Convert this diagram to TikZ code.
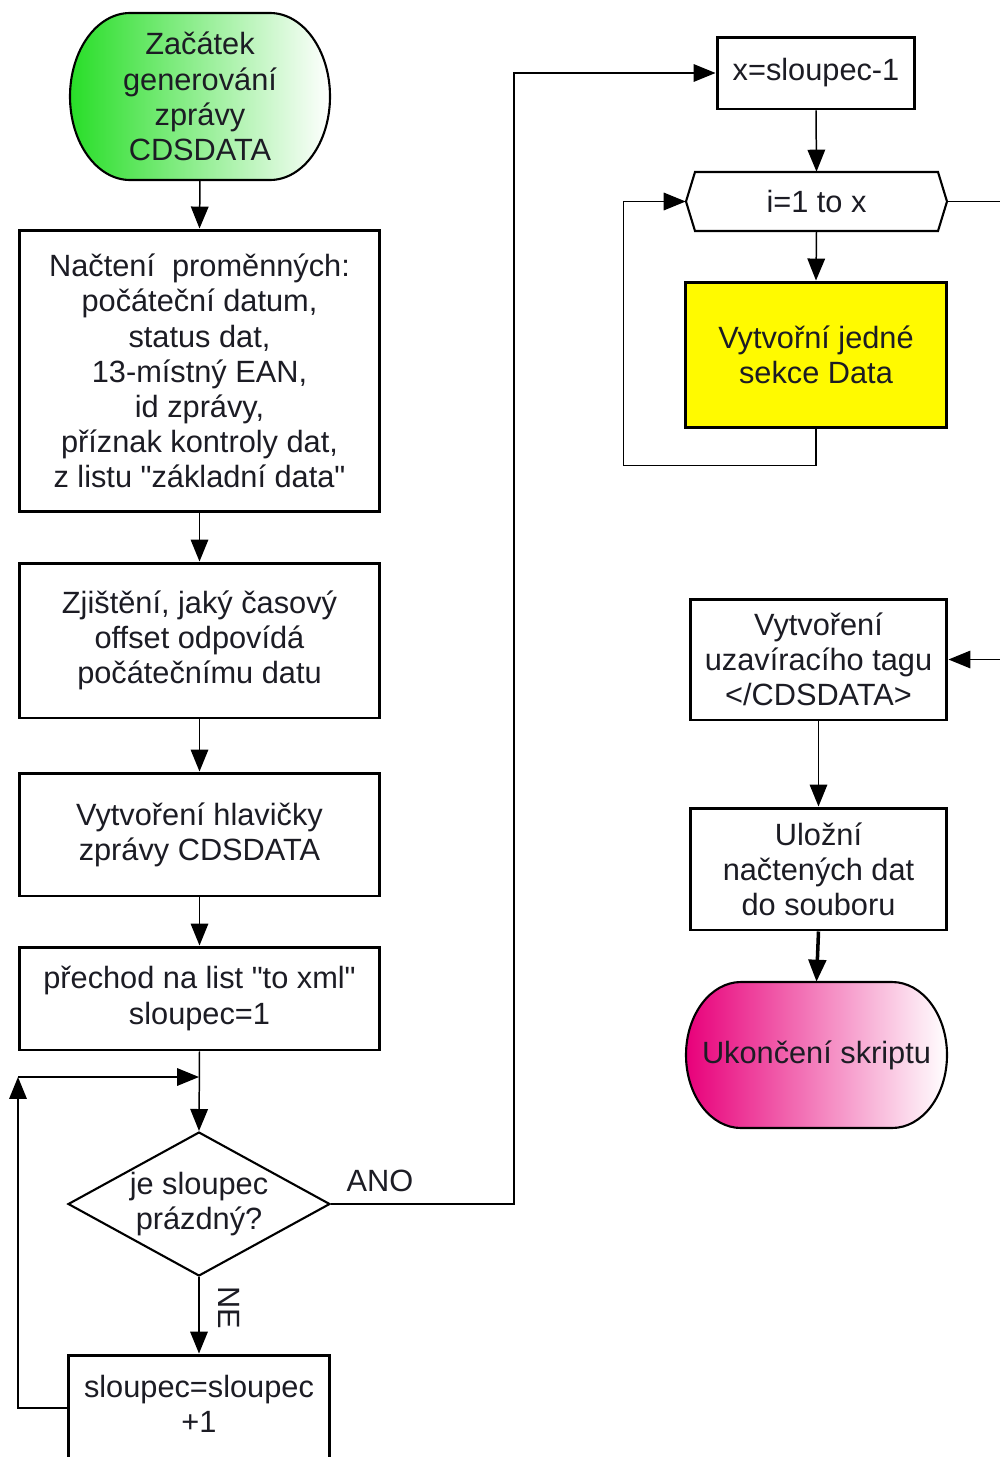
\documentclass[tikz,border=0pt]{standalone}
\usepackage{fontspec}
\setmainfont{Liberation Sans}[Ligatures=TeXOff]
\usetikzlibrary{arrows.meta,shapes.geometric,calc}
\definecolor{tc}{RGB}{28,28,36}
\definecolor{sgreen}{RGB}{40,222,40}
\definecolor{epink}{RGB}{232,0,122}
\definecolor{dyellow}{RGB}{255,250,0}
\begin{document}
\begin{tikzpicture}[x=0.02cm,y=-0.02cm,
  every node/.style={font=\fontsize{17.5}{20}\selectfont, text=tc, align=center},
  box/.style={draw=black, line width=1.7pt, fill=white, inner sep=0pt},
  plain/.style={inner sep=0pt},
  conn/.style={line width=0.85pt, draw=black},
  arr/.style={conn, -{Triangle[length=12.5pt,width=10pt]}},
  thickarr/.style={line width=2pt, draw=black, -{Triangle[length=12.5pt,width=10pt]}},
  shapeline/.style={draw=black, line width=1.2pt}
]
\useasboundingbox (0,0) rectangle (1000,1457);

% ---- start terminal
\path[shapeline, left color=sgreen, middle color=sgreen!55, right color=white]
  (130,13) -- (270,13) .. controls (303.1,13) and (330,50.4) .. (330,96.5)
  .. controls (330,142.6) and (303.1,180) .. (270,180) -- (130,180)
  .. controls (96.9,180) and (70,142.6) .. (70,96.5)
  .. controls (70,50.4) and (96.9,13) .. cycle;
\node[plain, minimum width=5.2cm, minimum height=3.34cm] (start) at (200,96.5)
  {Začátek\\ generování\\ zprávy\\ CDSDATA};

% ---- left column
\node[box, minimum width=7.22cm, minimum height=5.64cm] (nac) at (199.5,371)
  {Načtení\ \ proměnných:\\ počáteční datum,\\ status dat,\\ 13-místný EAN,\\ id zprávy,\\ příznak kontroly dat,\\ z listu "základní data"};
\node[box, minimum width=7.22cm, minimum height=3.1cm] (zji) at (199.5,640.5)
  {Zjištění, jaký časový\\ offset odpovídá\\ počátečnímu datu};
\node[box, minimum width=7.22cm, minimum height=2.46cm] (hla) at (199.5,834.5)
  {Vytvoření hlavičky\\ zprávy CDSDATA};
\node[box, minimum width=7.22cm, minimum height=2.06cm] (pre) at (199.5,998.5)
  {přechod na list "to xml"\\ sloupec=1};
\node[draw=black, line width=1.2pt, fill=white, diamond, aspect=1.82, inner sep=0pt,
      minimum width=5.24cm, minimum height=2.88cm] (dec) at (199,1204)
  {je sloupec\\ prázdný?};
\node[box, minimum width=5.24cm, minimum height=2.86cm] (slo) at (199,1426.5)
  {sloupec=sloupec\\ +1\\ \strut};

\node[plain] (ano) at (380,1181) {ANO};
\node[plain, rotate=-90] (ne) at (229,1308) {NE};

% ---- right column
\node[box, minimum width=3.96cm, minimum height=1.44cm] (xb) at (816,73)
  {x=sloupec-1};
\path[shapeline, fill=white]
  (686,201.5) -- (695,172) -- (938,172) -- (947,201.5) -- (938,231) -- (695,231) -- cycle;
\node[plain, minimum width=5.22cm, minimum height=1.18cm] (hex) at (816.5,201.5) {i=1 to x};
\node[box, fill=dyellow, minimum width=5.24cm, minimum height=2.92cm] (dat) at (816,355)
  {Vytvořní jedné\\ sekce Data};
\node[box, minimum width=5.14cm, minimum height=2.42cm] (tag) at (818.5,659.5)
  {Vytvoření\\ uzavíracího tagu\\ </CDSDATA>};
\node[box, minimum width=5.14cm, minimum height=2.44cm] (ulo) at (818.5,869)
  {Uložní\\ načtených dat\\ do souboru};

\path[shapeline, left color=epink, middle color=epink!55, right color=white]
  (741,982) -- (892,982) .. controls (922.4,982) and (947,1014.7) .. (947,1055)
  .. controls (947,1095.3) and (922.4,1128) .. (892,1128) -- (741,1128)
  .. controls (710.6,1128) and (686,1095.3) .. (686,1055)
  .. controls (686,1014.7) and (710.6,982) .. cycle;
\node[plain, minimum width=5.22cm, minimum height=2.92cm] (end) at (816.5,1055)
  {Ukončení skriptu};

% ---- connectors left
\coordinate (jl) at (18,1077);
\coordinate (j) at (199,1077);
\draw[arr] (start.south) -- (nac.north);
\draw[arr] (nac.south) -- (zji.north);
\draw[arr] (zji.south) -- (hla.north);
\draw[arr] (hla.south) -- (pre.north);
\draw[arr] (pre.south) -- (dec.north);
\draw[arr] (dec.south) -- (slo.north);
\draw[arr] ([yshift=0.37cm]slo.west) -| (jl);
\draw[arr] (jl) -- (j);
\draw[arr] (dec.east) -- ++(183,0) |- (xb.west);

% ---- connectors right
\draw[arr] (xb.south) -- (hex.north);
\draw[arr] (hex.south) -- (dat.north);
\draw[arr] (dat.south) -- ++(0,36) -| ([xshift=-1.24cm]hex.west) -- (hex.west);
\draw[arr] (hex.east) -- ++(56,0) |- (tag.east);
\draw[arr] (tag.south) -- (ulo.north);
\draw[thickarr] (ulo.south) -- (end.north);
\end{tikzpicture}
\end{document}
